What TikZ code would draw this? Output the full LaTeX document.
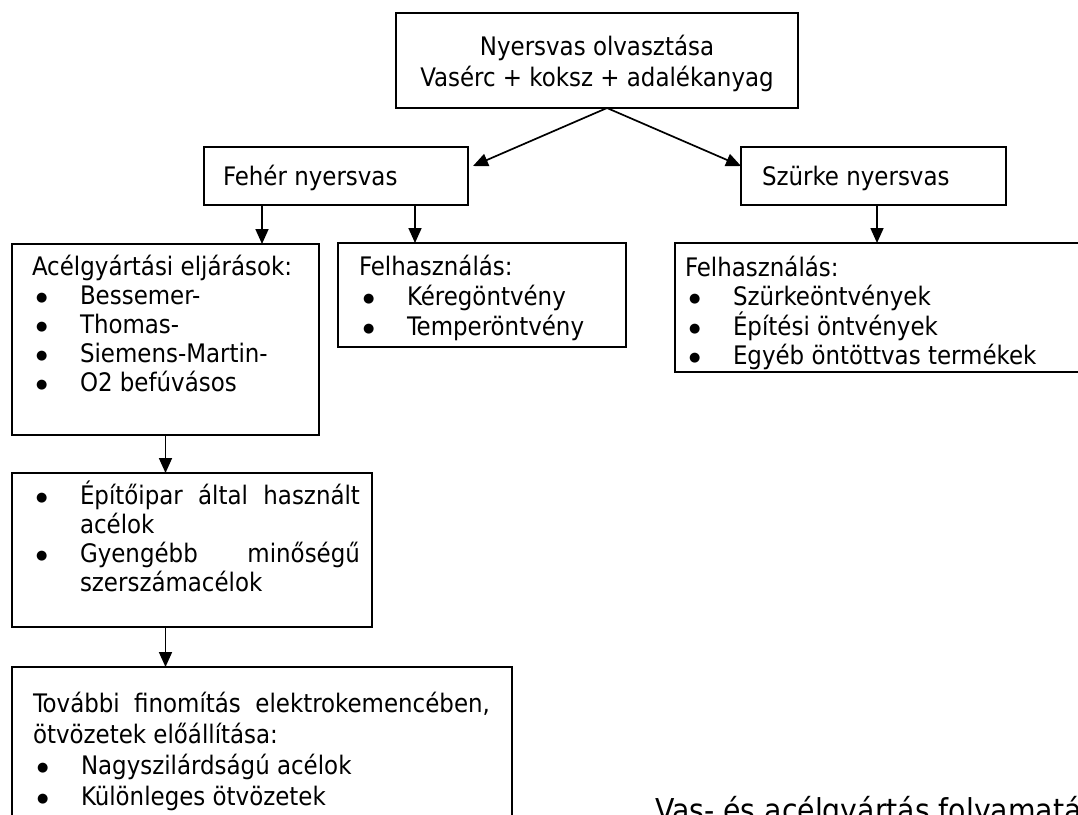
\documentclass[tikz,border=0pt]{standalone}
\usepackage{fontspec}
\setmainfont{DejaVu Sans Condensed}
\newfontfamily\symf{DejaVu Sans}
\usetikzlibrary{arrows.meta,calc}
\tikzset{
  box/.style={draw, line width=1.8pt, inner sep=0pt, outer sep=0pt, anchor=north west},
  txt/.style={inner sep=0pt, outer sep=0pt, anchor=north west, align=left},
  arr/.style={line width=1.7pt, -{Triangle[length=15pt,width=13pt]}},
}
\newcommand\bl[1]{\makebox[48pt][l]{\hspace*{4pt}\raisebox{3pt}{\symf\fontsize{13}{0}\selectfont ●}}#1}
\newcommand\fs{\rule{0pt}{24pt}}
\begin{document}
\begin{tikzpicture}[x=1pt,y=-1pt]
\useasboundingbox (0,0) rectangle (1078,814);
% boxes
\node[box, minimum width=402pt, minimum height=95pt] (top) at (396,13) {};
\node[txt, anchor=north, align=center, font=\fontsize{25.5}{31}\selectfont] (topt) at (597,31) {\fs Nyersvas olvasztása\\Vasérc + koksz + adalékanyag};

\node[box, minimum width=264pt, minimum height=58pt] (fw) at (204,147) {};
\node[txt, font=\fontsize{25.5}{29}\selectfont] (fwt) at (223,161) {\fs Fehér nyersvas};

\node[box, minimum width=265pt, minimum height=58pt] (sw) at (741,147) {};
\node[txt, font=\fontsize{25.5}{29}\selectfont] (swt) at (762,161) {\fs Szürke nyersvas};

\node[box, minimum width=307pt, minimum height=191pt] (acel) at (12,244) {};
\node[txt, font=\fontsize{25.5}{29}\selectfont] (acelt) at (32,251) {\fs Acélgyártási eljárások:\\\bl{Bessemer-}\\\bl{Thomas-}\\\bl{Siemens-Martin-}\\\bl{O2 befúvásos}};

\node[box, minimum width=288pt, minimum height=104pt] (mid) at (338,243) {};
\node[txt, font=\fontsize{25.5}{30}\selectfont] (midt) at (359,251) {\fs Felhasználás:\\\bl{Kéregöntvény}\\\bl{Temperöntvény}};

\node[box, minimum width=425pt, minimum height=129pt] (right) at (675,243) {};
\node[txt, font=\fontsize{25.5}{29.5}\selectfont] (rightt) at (685,252) {\fs Felhasználás:\\\bl{Szürkeöntvények}\\\bl{Építési öntvények}\\\bl{Egyéb öntöttvas termékek}};

\node[box, minimum width=360pt, minimum height=154pt] (epit) at (12,473) {};
\node[txt, font=\fontsize{25.5}{29}\selectfont] (epitt) at (32,480) {\fs\bl{\makebox[280pt][s]{Építőipar által használt}}\\\hspace*{48pt}acélok\\\bl{\makebox[280pt][s]{Gyengébb minőségű}}\\\hspace*{48pt}szerszámacélok};

\node[box, minimum width=500pt, minimum height=200pt] (bot) at (12,667) {};
\node[txt, font=\fontsize{25.5}{31}\selectfont] (bott) at (33,688) {\fs\makebox[457pt][s]{További finomítás elektrokemencében,}\\ötvözetek előállítása:\\\bl{Nagyszilárdságú acélok}\\\bl{Különleges ötvözetek}};

\node[inner sep=0pt, anchor=base west, font=\fontsize{31.5}{36}\selectfont] (cap) at (655,821) {Vas- és acélgyártás folyamatá};

% connectors
\coordinate (apex) at ([xshift=10pt]top.south);
\draw[arr] (apex) -- ([xshift=5pt,yshift=10pt]fw.east);
\draw[arr] (apex) -- ([yshift=10pt]sw.west);
\draw[arr] ([xshift=-74pt]fw.south) -- ([xshift=-74pt]fw.south |- acel.north);
\draw[arr] ([xshift=79pt]fw.south) -- ([xshift=79pt]fw.south |- mid.north);
\draw[arr] ([xshift=3.5pt]sw.south) -- ([xshift=3.5pt]sw.south |- right.north);
\draw[arr] (acel.south) -- (acel.south |- epit.north);
\draw[arr] (epit.south -| acel.south) -- (acel.south |- bot.north);
\end{tikzpicture}
\end{document}
